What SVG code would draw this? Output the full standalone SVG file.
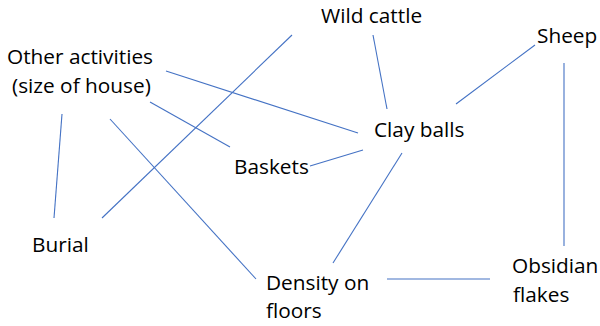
<svg xmlns="http://www.w3.org/2000/svg" width="600" height="326" viewBox="0 0 600 326">
<style>
.t{font-family:"Open Sans","Liberation Sans",sans-serif;font-size:20.8px;fill:#000}
.c line{stroke:#4472C4;stroke-width:1.1}
</style>
<rect width="600" height="326" fill="#fff"/>
<g class="c" id="connectors">
<line x1="292" y1="35" x2="102" y2="218"/>
<line x1="166" y1="71" x2="358" y2="133"/>
<line x1="150" y1="102" x2="230" y2="147"/>
<line x1="110" y1="119" x2="256" y2="279"/>
<line x1="62" y1="114" x2="54" y2="218"/>
<line x1="373" y1="35" x2="387" y2="109"/>
<line x1="535" y1="45" x2="456" y2="104"/>
<line x1="564" y1="63" x2="564" y2="246"/>
<line x1="363" y1="150" x2="310" y2="166"/>
<line x1="402" y1="153" x2="333" y2="263"/>
<line x1="387" y1="279" x2="490" y2="279"/>
</g>
<g id="other"><text class="t" x="7" y="64">Other activities</text><text class="t" x="12" y="93">(size of house)</text></g>
<g id="wild"><text class="t" x="321" y="23">Wild cattle</text></g>
<g id="sheep"><text class="t" x="537" y="43">Sheep</text></g>
<g id="clay"><text class="t" x="374" y="137">Clay balls</text></g>
<g id="baskets"><text class="t" x="234" y="174">Baskets</text></g>
<g id="burial"><text class="t" x="32" y="252">Burial</text></g>
<g id="density"><text class="t" x="266" y="290">Density on</text><text class="t" x="266" y="318">floors</text></g>
<g id="obsidian"><text class="t" x="512" y="273">Obsidian</text><text class="t" x="513" y="302">flakes</text></g>
</svg>
